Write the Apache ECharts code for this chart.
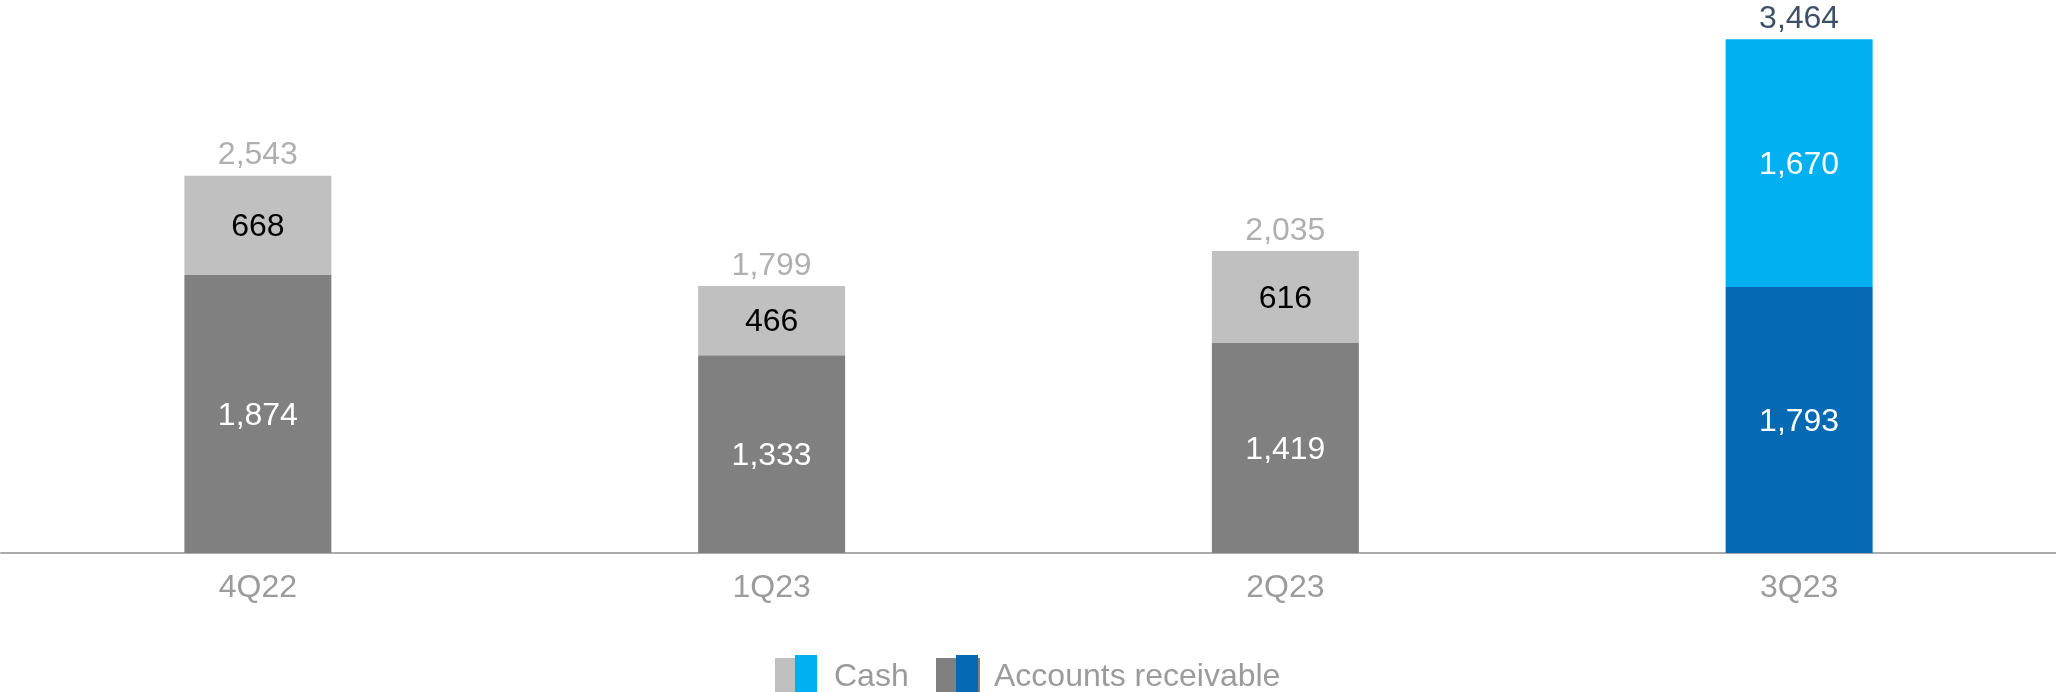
<!DOCTYPE html>
<html>
<head>
<meta charset="utf-8">
<script src="https://cdn.jsdelivr.net/npm/echarts@6/dist/echarts.min.js"></script>
<style>
  html, body { margin: 0; padding: 0; background: #ffffff; }
  #chart { width: 2056px; height: 692px; }
</style>
</head>
<body>
<div id="chart"></div>
<script>
// Quarterly cash and accounts receivable
const quarters = ['4Q22', '1Q23', '2Q23', '3Q23'];
const receivables = [1874, 1333, 1419, 1793];
const cash = [668, 466, 616, 1670];
const totals = [2543, 1799, 2035, 3464];

const FONT = 'Arial, "Liberation Sans", sans-serif';
const GREY_TEXT = '#9B9B9B';

// earlier quarters in grey, latest quarter in blue
const isLatest = (i) => i === quarters.length - 1;
const cashColor = (i) => isLatest(i) ? '#00B0F0' : '#C0C0C0';
const arColor = (i) => isLatest(i) ? '#0569B3' : '#808080';
const cashLabelColor = (i) => isLatest(i) ? '#ffffff' : '#000000';
const totalLabelColor = (i) => isLatest(i) ? '#0C2340' : GREY_TEXT;

const fmt = (v) => v.toLocaleString('en-US');

const chart = echarts.init(document.getElementById('chart'), null, { renderer: 'canvas' });

chart.setOption({
  animation: false,
  backgroundColor: '#ffffff',
  grid: { left: 1, right: 0, top: 39, bottom: 139, containLabel: false },
  xAxis: {
    type: 'category',
    data: quarters,
    axisLine: { show: true, lineStyle: { color: '#ABABAB', width: 2 } },
    axisTick: { show: false },
    axisLabel: { color: GREY_TEXT, fontSize: 32, fontFamily: FONT, margin: 19 }
  },
  yAxis: {
    type: 'value',
    min: 0,
    max: Math.max(...totals),
    show: false,
    splitLine: { show: false }
  },
  series: [
    {
      name: 'Accounts receivable',
      type: 'bar',
      stack: 'total',
      barWidth: 147,
      data: receivables.map((v, i) => ({
        value: v,
        itemStyle: { color: arColor(i) }
      })),
      label: {
        show: true,
        position: 'inside',
        offset: [0, 2],
        color: '#ffffff',
        fontSize: 32,
        fontFamily: FONT,
        formatter: (p) => fmt(p.value)
      }
    },
    {
      name: 'Cash',
      type: 'bar',
      stack: 'total',
      barWidth: 147,
      data: cash.map((v, i) => ({
        value: v,
        itemStyle: { color: cashColor(i) },
        label: { color: cashLabelColor(i) }
      })),
      label: {
        show: true,
        position: 'inside',
        offset: [0, 2],
        fontSize: 32,
        fontFamily: FONT,
        formatter: (p) => fmt(p.value)
      }
    },
    {
      name: 'Total',
      type: 'scatter',
      symbolSize: 0,
      data: totals.map((v, i) => ({
        value: v,
        label: { color: totalLabelColor(i) }
      })),
      label: {
        show: true,
        position: 'top',
        distance: 4,
        fontSize: 32,
        fontFamily: FONT,
        formatter: (p) => fmt(p.value)
      },
      silent: true
    }
  ],
  graphic: [
    // Cash key: grey and blue swatches side by side
    { type: 'rect', shape: { x: 775, y: 658, width: 20, height: 34 }, style: { fill: '#C0C0C0' } },
    { type: 'rect', shape: { x: 795, y: 655, width: 22, height: 37 }, style: { fill: '#00B0F0' } },
    { type: 'text', x: 834, y: 677, style: { text: 'Cash', fill: GREY_TEXT, fontSize: 32, fontFamily: FONT, textVerticalAlign: 'middle' } },
    // Accounts receivable key
    { type: 'rect', shape: { x: 936, y: 658, width: 20, height: 34 }, style: { fill: '#808080' } },
    { type: 'rect', shape: { x: 956, y: 655, width: 22, height: 37 }, style: { fill: '#0569B3' } },
    { type: 'rect', shape: { x: 978, y: 658, width: 2, height: 34 }, style: { fill: '#808080' } },
    { type: 'text', x: 994, y: 677, style: { text: 'Accounts receivable', fill: GREY_TEXT, fontSize: 32, fontFamily: FONT, textVerticalAlign: 'middle' } }
  ]
});
</script>
</body>
</html>
